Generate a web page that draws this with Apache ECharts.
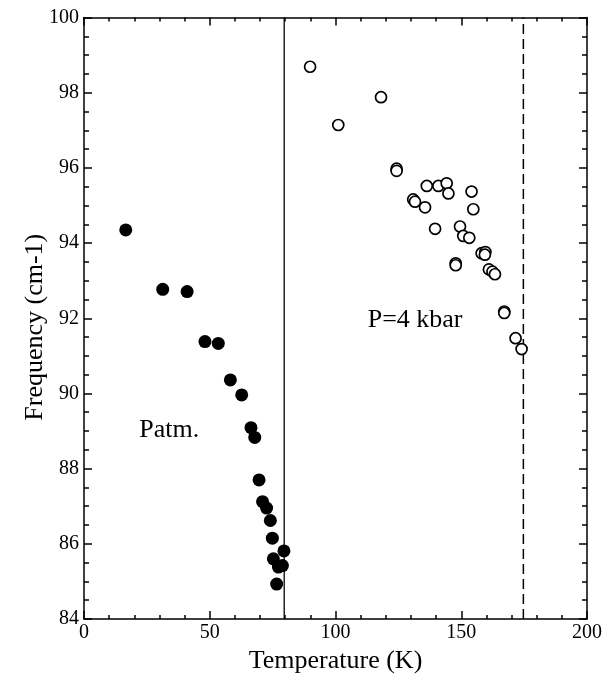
<!DOCTYPE html>
<html>
<head>
<meta charset="utf-8">
<script src="https://cdn.jsdelivr.net/npm/echarts@6/dist/echarts.min.js"></script>
<style>
html,body{margin:0;padding:0;background:#fff;}
#chart{width:607px;height:676px;}
</style>
</head>
<body>
<div id="chart"></div>
<script>
// Data
var xTicks = [0, 50, 100, 150, 200];
var xMinorStep = 10;
var yTicks = [84, 86, 88, 90, 92, 94, 96, 98, 100];
var yMinorStep = 0.5;

// Patm. (filled circles): [Temperature K, Frequency cm-1]
var patmData = [
  [16.6, 94.35], [31.3, 92.77], [41.0, 92.71], [48.1, 91.38], [53.4, 91.33],
  [58.2, 90.36], [62.7, 89.96], [66.4, 89.09], [67.9, 88.83], [69.6, 87.70],
  [71.0, 87.12], [72.6, 86.95], [74.1, 86.62], [74.9, 86.15], [79.5, 85.81],
  [75.3, 85.60], [77.3, 85.38], [78.9, 85.42], [76.6, 84.93]
];

// P=4 kbar (open circles)
var kbarData = [
  [89.9, 98.69], [118.1, 97.88], [101.1, 97.14], [124.3, 95.98], [124.3, 95.92],
  [136.3, 95.52], [140.9, 95.52], [144.2, 95.59], [144.9, 95.32], [154.1, 95.37],
  [130.9, 95.16], [131.6, 95.10], [135.6, 94.95], [154.8, 94.90], [139.6, 94.38],
  [149.5, 94.44], [150.8, 94.19], [153.2, 94.14], [158.1, 93.73], [159.6, 93.76],
  [159.4, 93.69], [147.8, 93.46], [147.8, 93.41], [161.0, 93.30], [162.4, 93.24],
  [163.4, 93.17], [167.1, 92.18], [167.1, 92.14], [171.6, 91.47], [174.0, 91.18]
];

// Vertical transition lines (Temperature K)
var solidLineT = 79.6;
var dashedLineT = 174.7;

// Text annotations: [T, F, text]
var annotations = [
  [22.0, 89.02, 'Patm.'],
  [112.8, 91.95, 'P=4 kbar']
];

var FONT = 'Liberation Serif';
var xMin = xTicks[0], xMax = xTicks[xTicks.length - 1];
var yMin = yTicks[0], yMax = yTicks[yTicks.length - 1];
var tickLine = {color: '#000', width: 1.5};

function xAxisCfg(pos, showLabel) {
  return {
    type: 'value', position: pos, min: xMin, max: xMax, interval: xTicks[1] - xTicks[0],
    axisLine: {show: true, onZero: false, lineStyle: {color: '#000', width: 1.5}},
    axisTick: {show: true, inside: true, length: 8, lineStyle: tickLine},
    splitLine: {show: false},
    axisLabel: {show: showLabel, color: '#000', fontFamily: FONT, fontSize: 20, margin: 4},
    name: showLabel ? 'Temperature (K)' : '',
    nameLocation: 'middle', nameGap: 29,
    nameTextStyle: {color: '#000', fontFamily: FONT, fontSize: 26}
  };
}
function xMinorCfg(pos) {
  return {
    type: 'value', position: pos, min: xMin, max: xMax, interval: xMinorStep,
    axisLine: {show: false, onZero: false},
    axisTick: {show: true, inside: true, length: 4, lineStyle: tickLine},
    splitLine: {show: false}, axisLabel: {show: false}
  };
}
function yAxisCfg(pos, showLabel) {
  return {
    type: 'value', position: pos, min: yMin, max: yMax, interval: yTicks[1] - yTicks[0],
    axisLine: {show: true, onZero: false, lineStyle: {color: '#000', width: 1.5}},
    axisTick: {show: true, inside: true, length: 8, lineStyle: tickLine},
    splitLine: {show: false},
    axisLabel: {show: showLabel, color: '#000', fontFamily: FONT, fontSize: 20, margin: 5},
    name: showLabel ? 'Frequency (cm-1)' : '',
    nameLocation: 'middle', nameGap: 36, nameMoveOverlap: false,
    nameTextStyle: {color: '#000', fontFamily: FONT, fontSize: 26, padding: [0, 18, 0, 0]}
  };
}
function yMinorCfg(pos) {
  return {
    type: 'value', position: pos, min: yMin, max: yMax, interval: yMinorStep,
    axisLine: {show: false, onZero: false},
    axisTick: {show: true, inside: true, length: 5, lineStyle: tickLine},
    splitLine: {show: false}, axisLabel: {show: false}
  };
}

var chart = echarts.init(document.getElementById('chart'), null, {renderer: 'canvas'});
chart.setOption({
  backgroundColor: '#fff',
  animation: false,
  grid: {left: 84, right: 20, top: 17.5, bottom: 57, containLabel: false, outerBoundsMode: 'none'},
  xAxis: [xAxisCfg('bottom', true), xAxisCfg('top', false), xMinorCfg('bottom'), xMinorCfg('top')],
  yAxis: [yAxisCfg('left', true), yAxisCfg('right', false), yMinorCfg('left'), yMinorCfg('right')],
  series: [
    {
      type: 'line', data: [[solidLineT, yMin], [solidLineT, yMax]],
      symbol: 'none', lineStyle: {color: '#000', width: 1.3}, silent: true, z: 1
    },
    {
      type: 'line', data: [[dashedLineT, yMin], [dashedLineT, yMax]],
      symbol: 'none', lineStyle: {color: '#000', width: 1.5, type: [10, 5]}, silent: true, z: 1
    },
    {
      name: 'Patm.', type: 'scatter', data: patmData, symbol: 'circle', symbolSize: 13,
      itemStyle: {color: '#000', opacity: 1}, z: 3
    },
    {
      name: 'P=4 kbar', type: 'scatter', data: kbarData, symbol: 'circle', symbolSize: 11,
      itemStyle: {color: '#fff', borderColor: '#000', borderWidth: 1.7, opacity: 1}, z: 4
    },
    {
      type: 'scatter', symbolSize: 0, silent: true, z: 5,
      itemStyle: {opacity: 1},
      data: annotations.map(function (a) { return {value: [a[0], a[1]], name: a[2]}; }),
      label: {
        show: true, position: 'right', distance: 0, formatter: '{b}',
        color: '#000', fontFamily: FONT, fontSize: 26, opacity: 1
      }
    }
  ]
});
</script>
</body>
</html>
